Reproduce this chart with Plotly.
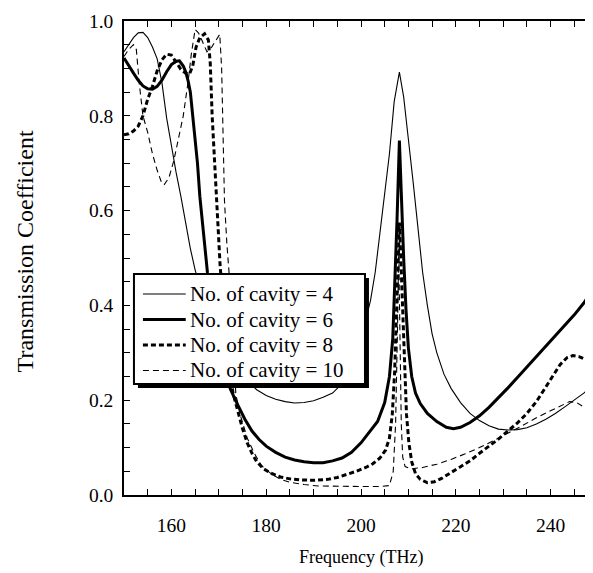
import plotly.graph_objects as go

# ---- data ----
freq_n4 = [150, 151, 152, 153, 154, 155, 156, 157, 158, 159, 160, 161, 162, 163, 164, 165, 166, 168, 170, 172,
           174, 176, 178, 180, 182, 184, 186, 188, 190, 192, 194, 196, 198, 200, 201, 202, 203, 204, 205, 206,
           207, 207.5, 208.1, 209, 209.5, 210, 211, 212, 213, 214, 215, 216, 217.5, 219, 221, 223, 225, 227,
           229, 231, 233, 235, 237, 239, 241, 243, 245, 247, 250]
trans_n4 = [0.935, 0.95, 0.965, 0.975, 0.976, 0.965, 0.945, 0.92, 0.87, 0.795, 0.735, 0.68, 0.63, 0.575, 0.52,
            0.475, 0.44, 0.38, 0.33, 0.29, 0.26, 0.24, 0.222, 0.21, 0.202, 0.197, 0.194, 0.195, 0.199, 0.206,
            0.215, 0.235, 0.27, 0.33, 0.37, 0.41, 0.47, 0.55, 0.64, 0.72, 0.83, 0.86, 0.892, 0.84, 0.80, 0.75,
            0.66, 0.57, 0.47, 0.40, 0.34, 0.30, 0.255, 0.225, 0.195, 0.172, 0.157, 0.146, 0.139, 0.137, 0.138,
            0.142, 0.15, 0.16, 0.172, 0.186, 0.20, 0.215, 0.24]

freq_n6 = [150, 151, 152, 153, 154, 155, 156, 157, 158, 159, 160, 161, 161.7, 162.5, 163, 163.5, 164, 164.5,
           165, 165.5, 166, 166.5, 167, 167.6, 168.5, 170, 171.5, 172.5, 174, 175.5, 177, 178.5, 180, 182, 184,
           186, 188, 190, 192, 194, 196, 198, 200, 202, 203.5, 205, 206, 206.7, 207.2, 207.6, 208.1, 208.5,
           209, 209.5, 210, 210.7, 211.5, 212.5, 214, 216, 218, 219.5, 221, 223, 225, 227, 229, 231, 233, 235,
           237, 239, 241, 243, 245, 247, 249, 250]
trans_n6 = [0.922, 0.905, 0.89, 0.875, 0.863, 0.857, 0.856, 0.862, 0.875, 0.893, 0.908, 0.915, 0.916, 0.905,
            0.893, 0.875, 0.85, 0.80, 0.75, 0.70, 0.63, 0.575, 0.52, 0.47, 0.41, 0.32, 0.25, 0.222, 0.19, 0.16,
            0.135, 0.117, 0.103, 0.09, 0.08, 0.074, 0.07, 0.068, 0.068, 0.072, 0.078, 0.09, 0.11, 0.135, 0.155,
            0.195, 0.25, 0.33, 0.45, 0.58, 0.748, 0.62, 0.50, 0.39, 0.31, 0.25, 0.215, 0.193, 0.172, 0.155,
            0.143, 0.14, 0.143, 0.153, 0.167, 0.185, 0.205, 0.226, 0.248, 0.27, 0.293, 0.315, 0.337, 0.358,
            0.38, 0.405, 0.435, 0.45]

freq_n8 = [150, 151, 152, 153, 154, 155, 156, 157, 158, 159, 160, 161, 162, 163, 163.8, 164.5, 165.2, 166, 167,
           167.8, 168.2, 168.6, 169, 169.4, 169.8, 170.3, 171, 172, 173, 174, 175, 176, 177, 178, 179.5, 181,
           183, 185, 187, 190, 193, 195, 197, 199, 201, 202.5, 204, 205.2, 206, 206.6, 207.1, 207.5, 207.9,
           208.1, 208.4, 208.8, 209.2, 209.6, 210.1, 210.7, 211.5, 212.5, 214, 215.5, 217, 219, 221, 223, 225,
           227, 229, 231, 233, 235, 237, 239, 240.5, 242, 243.5, 244.7, 246, 248, 250]
trans_n8 = [0.76, 0.762, 0.768, 0.778, 0.80, 0.835, 0.862, 0.895, 0.918, 0.93, 0.928, 0.912, 0.898, 0.89, 0.888,
            0.905, 0.945, 0.965, 0.973, 0.96, 0.91, 0.80, 0.72, 0.63, 0.56, 0.48, 0.40, 0.29, 0.215, 0.175, 0.14,
            0.11, 0.088, 0.07, 0.055, 0.046, 0.038, 0.034, 0.032, 0.031, 0.033, 0.037, 0.043, 0.05, 0.058,
            0.066, 0.078, 0.095, 0.12, 0.17, 0.26, 0.38, 0.52, 0.575, 0.50, 0.38, 0.26, 0.17, 0.11, 0.07,
            0.045, 0.033, 0.026, 0.028, 0.035, 0.047, 0.06, 0.072, 0.088, 0.103, 0.118, 0.135, 0.152, 0.172,
            0.197, 0.228, 0.253, 0.275, 0.29, 0.294, 0.292, 0.283, 0.272]

freq_n10 = [150, 151, 152, 152.6, 153.2, 154, 155, 156, 157, 158, 158.5, 159.5, 160.5, 161.5, 162.5, 163.5,
            164.2, 165, 165.7, 166.5, 167.5, 168.5, 169.5, 170.2, 170.6, 170.9, 171.2, 171.7, 172.2, 173, 173.6,
            174.5, 176, 177.5, 179, 181, 183, 185, 188, 191, 195, 200, 204, 206, 206.8, 207.3, 207.7, 207.95,
            208.2, 208.5, 208.8, 209.3, 210.5, 213, 216, 219, 222, 225, 228, 231, 234, 237, 240, 242, 244,
            245.5, 247, 248.5, 250]
trans_n10 = [0.925, 0.94, 0.95, 0.94, 0.87, 0.80, 0.765, 0.72, 0.685, 0.657, 0.655, 0.67, 0.705, 0.75, 0.80,
             0.87, 0.93, 0.982, 0.975, 0.958, 0.935, 0.945, 0.962, 0.972, 0.90, 0.75, 0.62, 0.53, 0.465, 0.33,
             0.212, 0.17, 0.12, 0.088, 0.062, 0.045, 0.033, 0.027, 0.022, 0.019, 0.018, 0.018, 0.018, 0.02,
             0.05, 0.15, 0.35, 0.52, 0.35, 0.15, 0.08, 0.06, 0.055, 0.058, 0.065, 0.075, 0.087, 0.1, 0.115,
             0.13, 0.146, 0.163, 0.178, 0.188, 0.197, 0.195, 0.185, 0.176, 0.17]

series_names = ["No. of cavity = 4", "No. of cavity = 6", "No. of cavity = 8", "No. of cavity = 10"]

x_tickvals = [150 + 5 * i for i in range(21)]
x_ticktext = ["160", "180", "200", "220", "240"]
y_tickvals = [0.05 * i for i in range(21)]
y_ticktext = ["0.0", "0.2", "0.4", "0.6", "0.8", "1.0"]

x_title = "Frequency (THz)"
y_title = "Transmission Coefficient"

# ---- figure ----
FONT = "Liberation Serif, Times New Roman, serif"

def xlab(v):
    s = str(int(v))
    return s if s in x_ticktext else ""

def ylab(v):
    s = "%.1f" % v
    return s if (s in y_ticktext and abs(v * 10 - round(v * 10)) < 1e-6) else ""

styles = [dict(width=1.1, dash="solid"),
          dict(width=3.0, dash="solid"),
          dict(width=3.0, dash="5px,3px"),
          dict(width=1.1, dash="6px,4px")]
xs = [freq_n4, freq_n6, freq_n8, freq_n10]
ys = [trans_n4, trans_n6, trans_n8, trans_n10]

fig = go.Figure()
for name, x, y, st in zip(series_names, xs, ys, styles):
    fig.add_trace(go.Scatter(x=x, y=y, mode="lines", name=name, showlegend=False,
                             line=dict(color="black", width=st["width"], dash=st["dash"])))

L, R, T, B = 116, 592, 13, 487
W, H = 593, 573

def px(xp):
    return (xp - L) / (R - L)

def py(yp):
    return (B - yp) / (B - T)

# ---- boxed legend with drop shadow (drawn as layout decorations) ----
LX0, LX1, LY0, LY1 = 126, 358, 266, 376
SH = 4
fig.add_shape(type="rect", xref="paper", yref="paper",
              x0=px(LX0 + SH), x1=px(LX1 + SH), y0=py(LY1 + SH), y1=py(LY0 + SH),
              fillcolor="black", line=dict(width=0), layer="above")
fig.add_shape(type="rect", xref="paper", yref="paper",
              x0=px(LX0), x1=px(LX1), y0=py(LY1), y1=py(LY0),
              fillcolor="white", line=dict(color="black", width=2), layer="above")
row_y = [286, 311.5, 337, 362.5]
for name, st, ry in zip(series_names, styles, row_y):
    fig.add_shape(type="line", xref="paper", yref="paper",
                  x0=px(135), x1=px(178), y0=py(ry), y1=py(ry),
                  line=dict(color="black", width=st["width"], dash=st["dash"]), layer="above")
    fig.add_annotation(xref="paper", yref="paper", x=px(180), y=py(ry),
                       xanchor="left", yanchor="middle", showarrow=False, text=name,
                       font=dict(family=FONT, size=21, color="black"))

# axis titles
fig.add_annotation(xref="paper", yref="paper", x=0.5, y=py(549), xanchor="center", yanchor="middle",
                   showarrow=False, text=x_title, font=dict(family=FONT, size=18, color="black"))
fig.add_annotation(xref="paper", yref="paper", x=px(17), y=py(243), xanchor="center", yanchor="middle",
                   showarrow=False, text=y_title, textangle=-90,
                   font=dict(family=FONT, size=24, color="black"))

fig.update_layout(
    width=W, height=H,
    margin=dict(l=L, r=W - R, t=T, b=H - B, pad=0),
    paper_bgcolor="white", plot_bgcolor="white",
    font=dict(family=FONT, color="black", size=18),
    showlegend=False,
    xaxis=dict(range=[150, 250], tickmode="array", tickvals=x_tickvals,
               ticktext=[xlab(v) for v in x_tickvals],
               ticks="inside", ticklen=6, tickwidth=1.2, tickcolor="black",
               showline=True, linewidth=1.5, linecolor="black", mirror="ticks",
               showgrid=False, zeroline=False,
               tickfont=dict(family=FONT, size=19.5), ticklabelstandoff=12),
    yaxis=dict(range=[0, 1.0], tickmode="array", tickvals=y_tickvals,
               ticktext=[ylab(v) for v in y_tickvals],
               ticks="inside", ticklen=6, tickwidth=1.2, tickcolor="black",
               showline=True, linewidth=1.5, linecolor="black", mirror="ticks",
               showgrid=False, zeroline=False,
               tickfont=dict(family=FONT, size=19.5), ticklabelstandoff=5),
)

fig.write_html("out.html")
